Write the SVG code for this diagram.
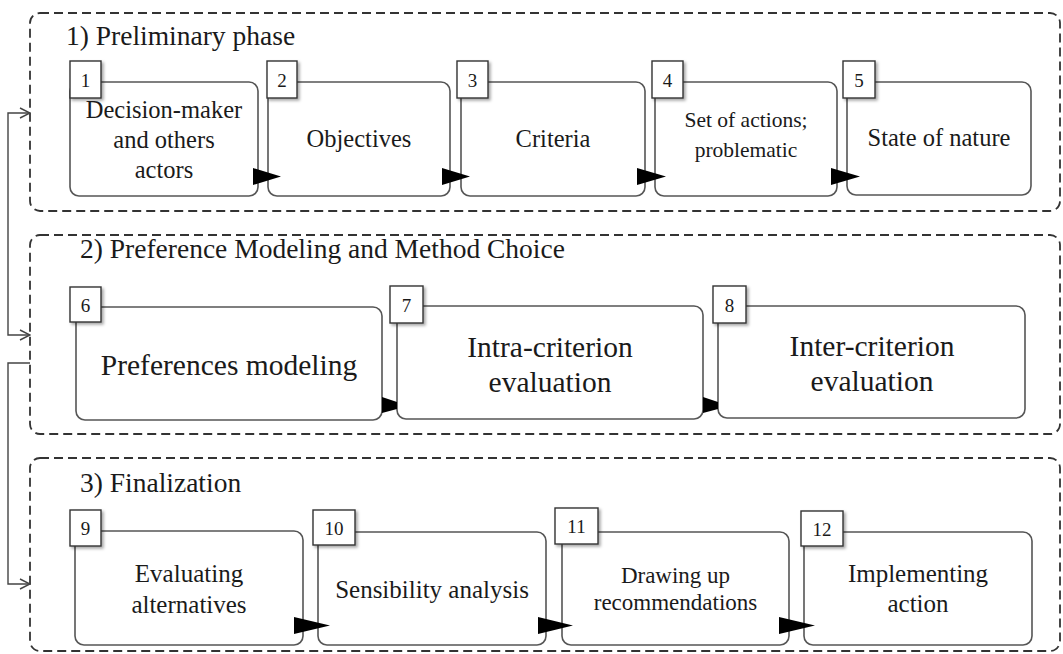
<svg xmlns="http://www.w3.org/2000/svg" width="1063" height="654" viewBox="0 0 1063 654">
  <style>
    .phase { fill: none; stroke: #333; stroke-width: 1.8; stroke-dasharray: 9 5; }
    .box { fill: #fff; stroke: #555; stroke-width: 1.6; }
    .num { fill: #fff; stroke: #333; stroke-width: 1.4; filter: url(#shadow); }
    .title { font-size: 27.5px; }
    .n { font-size: 19px; text-anchor: middle; }
    .c { text-anchor: middle; }
    .s1 { font-size: 24.5px; }
    .s1b { font-size: 21.5px; }
    .s2 { font-size: 29.5px; }
    .s3 { font-size: 25px; }
    .s3b { font-size: 23px; }
    .wire { fill: none; stroke: #444; stroke-width: 1.4; }
    .head { fill: #000; }
  </style>
  <defs>
    <filter id="shadow" x="-30%" y="-30%" width="170%" height="170%">
      <feDropShadow dx="2" dy="2" stdDeviation="1.5" flood-color="#000" flood-opacity="0.35"/>
    </filter>
    <marker id="open" viewBox="-11 -6 12 12" markerWidth="12" markerHeight="12" refX="0" refY="0" orient="auto-start-reverse" markerUnits="userSpaceOnUse">
      <path d="M-10,-5 L0,0 L-10,5" fill="none" stroke="#444" stroke-width="1.4"/>
    </marker>
  </defs>

  <g font-family="'Liberation Serif', 'Times New Roman', 'DejaVu Serif', serif" fill="#1a1a1a">
  <!-- phase containers -->
  <g id="phase1">
    <rect class="phase" x="30" y="13" width="1030" height="198" rx="10"/>
    <text class="title" x="66" y="45">1) Preliminary phase</text>
  </g>
  <g id="phase2">
    <rect class="phase" x="30" y="235" width="1030" height="199" rx="10"/>
    <text class="title" x="80" y="258">2) Preference Modeling and Method Choice</text>
  </g>
  <g id="phase3">
    <rect class="phase" x="30" y="458" width="1030" height="193" rx="10"/>
    <text class="title" x="80" y="492">3) Finalization</text>
  </g>

  <!-- phase 1 steps -->
  <g id="n1">
    <rect class="box" x="70" y="82" width="188" height="114" rx="9"/>
    <rect class="num" x="70" y="61" width="31" height="37"/>
    <text class="n" x="85.5" y="87">1</text>
    <text class="c s1" x="164" y="118">Decision-maker</text>
    <text class="c s1" x="164" y="148">and others</text>
    <text class="c s1" x="164" y="178">actors</text>
  </g>
  <g id="n2">
    <rect class="box" x="268" y="82" width="182" height="114" rx="9"/>
    <rect class="num" x="267" y="61" width="30" height="37"/>
    <text class="n" x="282" y="87">2</text>
    <text class="c s1" x="359" y="147">Objectives</text>
  </g>
  <g id="n3">
    <rect class="box" x="461" y="82" width="184" height="114" rx="9"/>
    <rect class="num" x="457" y="61" width="31" height="37"/>
    <text class="n" x="472.5" y="87">3</text>
    <text class="c s1" x="553" y="147">Criteria</text>
  </g>
  <g id="n4">
    <rect class="box" x="655" y="82" width="182" height="114" rx="9"/>
    <rect class="num" x="652" y="61" width="31" height="37"/>
    <text class="n" x="667.5" y="87">4</text>
    <text class="c s1b" x="746" y="127">Set of actions;</text>
    <text class="c s1b" x="746" y="157">problematic</text>
  </g>
  <g id="n5">
    <rect class="box" x="847" y="82" width="184" height="113" rx="9"/>
    <rect class="num" x="843" y="61" width="32" height="37"/>
    <text class="n" x="859" y="87">5</text>
    <text class="c s1" x="939" y="146">State of nature</text>
  </g>

  <!-- phase 2 steps -->
  <g id="n6">
    <rect class="box" x="76" y="307" width="306" height="113" rx="9"/>
    <rect class="num" x="70" y="287" width="31" height="35"/>
    <text class="n" x="85.5" y="312">6</text>
    <text class="c s2" x="229" y="375">Preferences modeling</text>
  </g>
  <g id="n7">
    <rect class="box" x="397" y="306" width="306" height="113" rx="9"/>
    <rect class="num" x="390" y="286" width="33" height="37"/>
    <text class="n" x="406.5" y="312">7</text>
    <text class="c s2" x="550" y="357">Intra-criterion</text>
    <text class="c s2" x="550" y="392">evaluation</text>
  </g>
  <g id="n8">
    <rect class="box" x="718" y="306" width="307" height="112" rx="9"/>
    <rect class="num" x="713" y="286" width="33" height="37"/>
    <text class="n" x="729.5" y="312">8</text>
    <text class="c s2" x="872" y="356">Inter-criterion</text>
    <text class="c s2" x="872" y="391">evaluation</text>
  </g>

  <!-- phase 3 steps -->
  <g id="n9">
    <rect class="box" x="75" y="531" width="228" height="114" rx="9"/>
    <rect class="num" x="70" y="510" width="31" height="36"/>
    <text class="n" x="85.5" y="535">9</text>
    <text class="c s3" x="189" y="582">Evaluating</text>
    <text class="c s3" x="189" y="613">alternatives</text>
  </g>
  <g id="n10">
    <rect class="box" x="318" y="532" width="228" height="113" rx="9"/>
    <rect class="num" x="313" y="510" width="42" height="35"/>
    <text class="n" x="334" y="535">10</text>
    <text class="c s3" x="432" y="598">Sensibility analysis</text>
  </g>
  <g id="n11">
    <rect class="box" x="562" y="532" width="227" height="113" rx="9"/>
    <rect class="num" x="555" y="508" width="43" height="36"/>
    <text class="n" x="576.5" y="533">11</text>
    <text class="c s3b" x="675.5" y="583">Drawing up</text>
    <text class="c s3b" x="675.5" y="610">recommendations</text>
  </g>
  <g id="n12">
    <rect class="box" x="804" y="532" width="228" height="113" rx="9"/>
    <rect class="num" x="801" y="511" width="42" height="35"/>
    <text class="n" x="822" y="536">12</text>
    <text class="c s3" x="918" y="582">Implementing</text>
    <text class="c s3" x="918" y="612">action</text>
  </g>
  </g>

  <!-- connectors -->
  <g id="connectors">
    <path class="wire" d="M30,113 H8 V335 H30" marker-start="url(#open)" marker-end="url(#open)"/>
    <path class="wire" d="M30,363 H8 V584 H30" marker-end="url(#open)"/>
    <polygon class="head" points="253,168 281,176.5 253,185"/>
    <polygon class="head" points="442,168 470,176.5 442,185"/>
    <polygon class="head" points="637,168 666,176.5 637,185"/>
    <polygon class="head" points="831,168 860,176.5 831,185"/>
    <polygon class="head" points="382,397 397,402 397,409 382,413"/>
    <polygon class="head" points="703,397 718,402 718,409 703,413"/>
    <polygon class="head" points="294,617 330,625.5 294,634"/>
    <polygon class="head" points="538,617 573,625.5 538,634"/>
    <polygon class="head" points="779,617 815,625.5 779,634"/>
  </g>
</svg>
